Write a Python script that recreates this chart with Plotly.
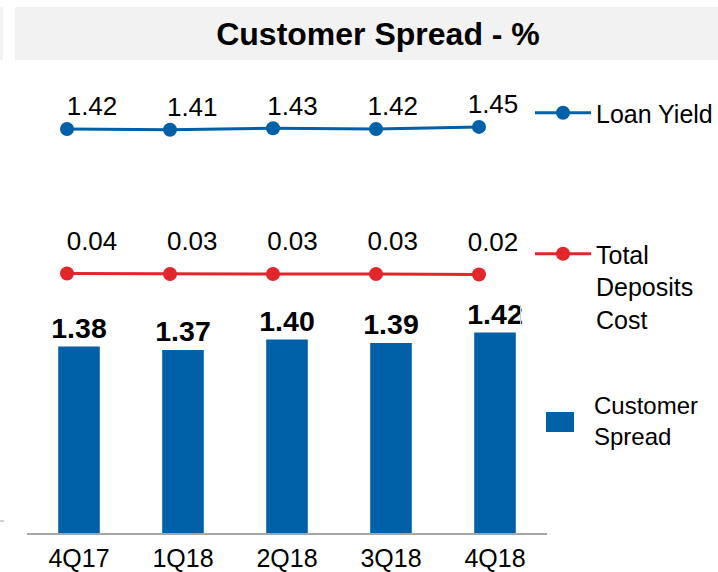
import plotly.graph_objects as go

# ---- data ----
quarters = ["4Q17", "1Q18", "2Q18", "3Q18", "4Q18"]
customer_spread = [1.38, 1.37, 1.40, 1.39, 1.42]
loan_yield = [1.42, 1.41, 1.43, 1.42, 1.45]
deposits_cost = [0.04, 0.03, 0.03, 0.03, 0.02]

# ---- layout constants (screen pixels; body margin removed in the page) ----
OFF = 0
W, H = 718 - OFF, 572 - OFF
L, R, T, B = 27 - OFF, 171, 60 - OFF, 39
PW, PH = W - L - R, H - T - B
FONT = "Liberation Sans, Arial, sans-serif"
BLUE = "#0061A8"
RED = "#E3262B"
GREY_BAND = "#F2F2F2"


def px_x(x):  # screen pixel -> paper x
    return (x - OFF - L) / PW


def px_y(y):  # screen pixel -> paper y
    return (H - B - (y - OFF)) / PH


def yrange(anchor_val, anchor_px, px_per_unit):
    a = anchor_px - OFF
    bottom = anchor_val - (H - B - a) / px_per_unit
    top = anchor_val + (a - T) / px_per_unit
    return [bottom, top]


def xrange(first_px, spacing):
    f = first_px - OFF
    left = -(f - L) / spacing
    right = (len(quarters) - 1) + (L + PW - (f + spacing * (len(quarters) - 1))) / spacing
    return [left, right]


fig = go.Figure()

fig.add_trace(go.Bar(
    x=quarters, y=customer_spread, marker=dict(color=BLUE, line=dict(width=0)),
    width=0.4, text=[f"{v:.2f}" for v in customer_spread], textposition="outside",
    textfont=dict(family=FONT, size=28.5, color="black", weight="bold"),
    constraintext="none", cliponaxis=False, showlegend=False, hoverinfo="x+y",
))

fig.add_trace(go.Scatter(
    x=quarters, y=loan_yield, xaxis="x2", yaxis="y2", mode="lines+markers",
    line=dict(color=BLUE, width=3), marker=dict(size=14, color=BLUE),
    name="Loan Yield", legend="legend", cliponaxis=False,
))
fig.add_trace(go.Scatter(
    x=quarters, y=loan_yield, xaxis="x3", yaxis="y2", mode="markers+text",
    marker=dict(size=10, opacity=0), text=[f"{v:.2f}" for v in loan_yield],
    textposition="top center", textfont=dict(family=FONT, size=26, color="black"),
    showlegend=False, hoverinfo="skip", cliponaxis=False,
))

fig.add_trace(go.Scatter(
    x=quarters, y=deposits_cost, xaxis="x2", yaxis="y3", mode="lines+markers",
    line=dict(color=RED, width=3), marker=dict(size=14, color=RED),
    name="Total<br>Deposits<br>Cost", legend="legend2", cliponaxis=False,
))
fig.add_trace(go.Scatter(
    x=quarters, y=deposits_cost, xaxis="x3", yaxis="y3", mode="markers+text",
    marker=dict(size=26, opacity=0), text=[f"{v:.2f}" for v in deposits_cost],
    textposition="top center", textfont=dict(family=FONT, size=26, color="black"),
    showlegend=False, hoverinfo="skip", cliponaxis=False,
))

legend_common = dict(
    font=dict(family=FONT, size=25, color="black"), bgcolor="rgba(0,0,0,0)",
    borderwidth=0, itemwidth=56, xanchor="left", valign="top", itemclick=False,
)

fig.update_layout(
    width=W, height=H,
    margin=dict(l=L, r=R, t=T, b=B, pad=0, autoexpand=False),
    paper_bgcolor="white", plot_bgcolor="white",
    font=dict(family=FONT, color="black"),
    title=dict(text="<b>Customer Spread - %</b>", x=(378 - OFF) / W, xanchor="center",
               y=1 - (34 - OFF) / H, yanchor="middle", xref="container", yref="container",
               font=dict(family=FONT, size=32, color="black")),
    bargap=0.6,
    xaxis=dict(type="category", categoryarray=quarters, range=[-0.5, 4.5],
               showline=True, linecolor="#A6A6A6", linewidth=2, ticks="",
               ticklabelstandoff=2,
               showgrid=False, zeroline=False, fixedrange=True, automargin=False,
               tickfont=dict(family=FONT, size=25, color="black")),
    xaxis2=dict(type="category", categoryarray=quarters, overlaying="x", anchor="y",
                range=xrange(67, 103), visible=False, fixedrange=True),
    xaxis3=dict(type="category", categoryarray=quarters, overlaying="x", anchor="y",
                range=xrange(92, 100.25), visible=False, fixedrange=True),
    yaxis=dict(range=yrange(1.42, 332.5, 350), visible=False, fixedrange=True),
    yaxis2=dict(range=yrange(1.42, 129, 70), overlaying="y", visible=False, fixedrange=True),
    yaxis3=dict(range=yrange(0.03, 274, 50), overlaying="y", visible=False, fixedrange=True),
    legend=dict(x=px_x(530), y=px_y(113), yanchor="middle", **legend_common),
    legend2=dict(x=px_x(530), y=px_y(231), yanchor="top", **legend_common),
    showlegend=True,
    shapes=[
        dict(type="rect", xref="paper", yref="paper", x0=px_x(15), x1=px_x(718 + 5),
             y0=px_y(60), y1=px_y(7), fillcolor=GREY_BAND, line=dict(width=0), layer="below"),
        dict(type="rect", xref="paper", yref="paper", x0=px_x(-2), x1=px_x(3),
             y0=px_y(60), y1=px_y(7), fillcolor=GREY_BAND, line=dict(width=0), layer="below"),
        dict(type="rect", xref="paper", yref="paper", x0=px_x(546), x1=px_x(574),
             y0=px_y(432), y1=px_y(412), fillcolor=BLUE, line=dict(width=0)),
        dict(type="line", xref="paper", yref="paper", x0=px_x(0), x1=px_x(4),
             y0=px_y(521), y1=px_y(521), line=dict(color="#A6A6A6", width=1)),
        dict(type="line", xref="paper", yref="paper", x0=px_x(520.5), x1=px_x(520.5),
             y0=px_y(305), y1=px_y(324), line=dict(color="#C8C8C8", width=1)),
    ],
    annotations=[
        dict(text="Customer<br>Spread", xref="paper", yref="paper",
             x=px_x(592), y=px_y(421), xanchor="left", yanchor="middle", align="left",
             showarrow=False, font=dict(family=FONT, size=24, color="black")),
    ],
)

fig.write_html(
    "out.html",
    config={"displayModeBar": False},
    post_script="document.body.style.margin='0';document.body.style.overflow='hidden';",
)
